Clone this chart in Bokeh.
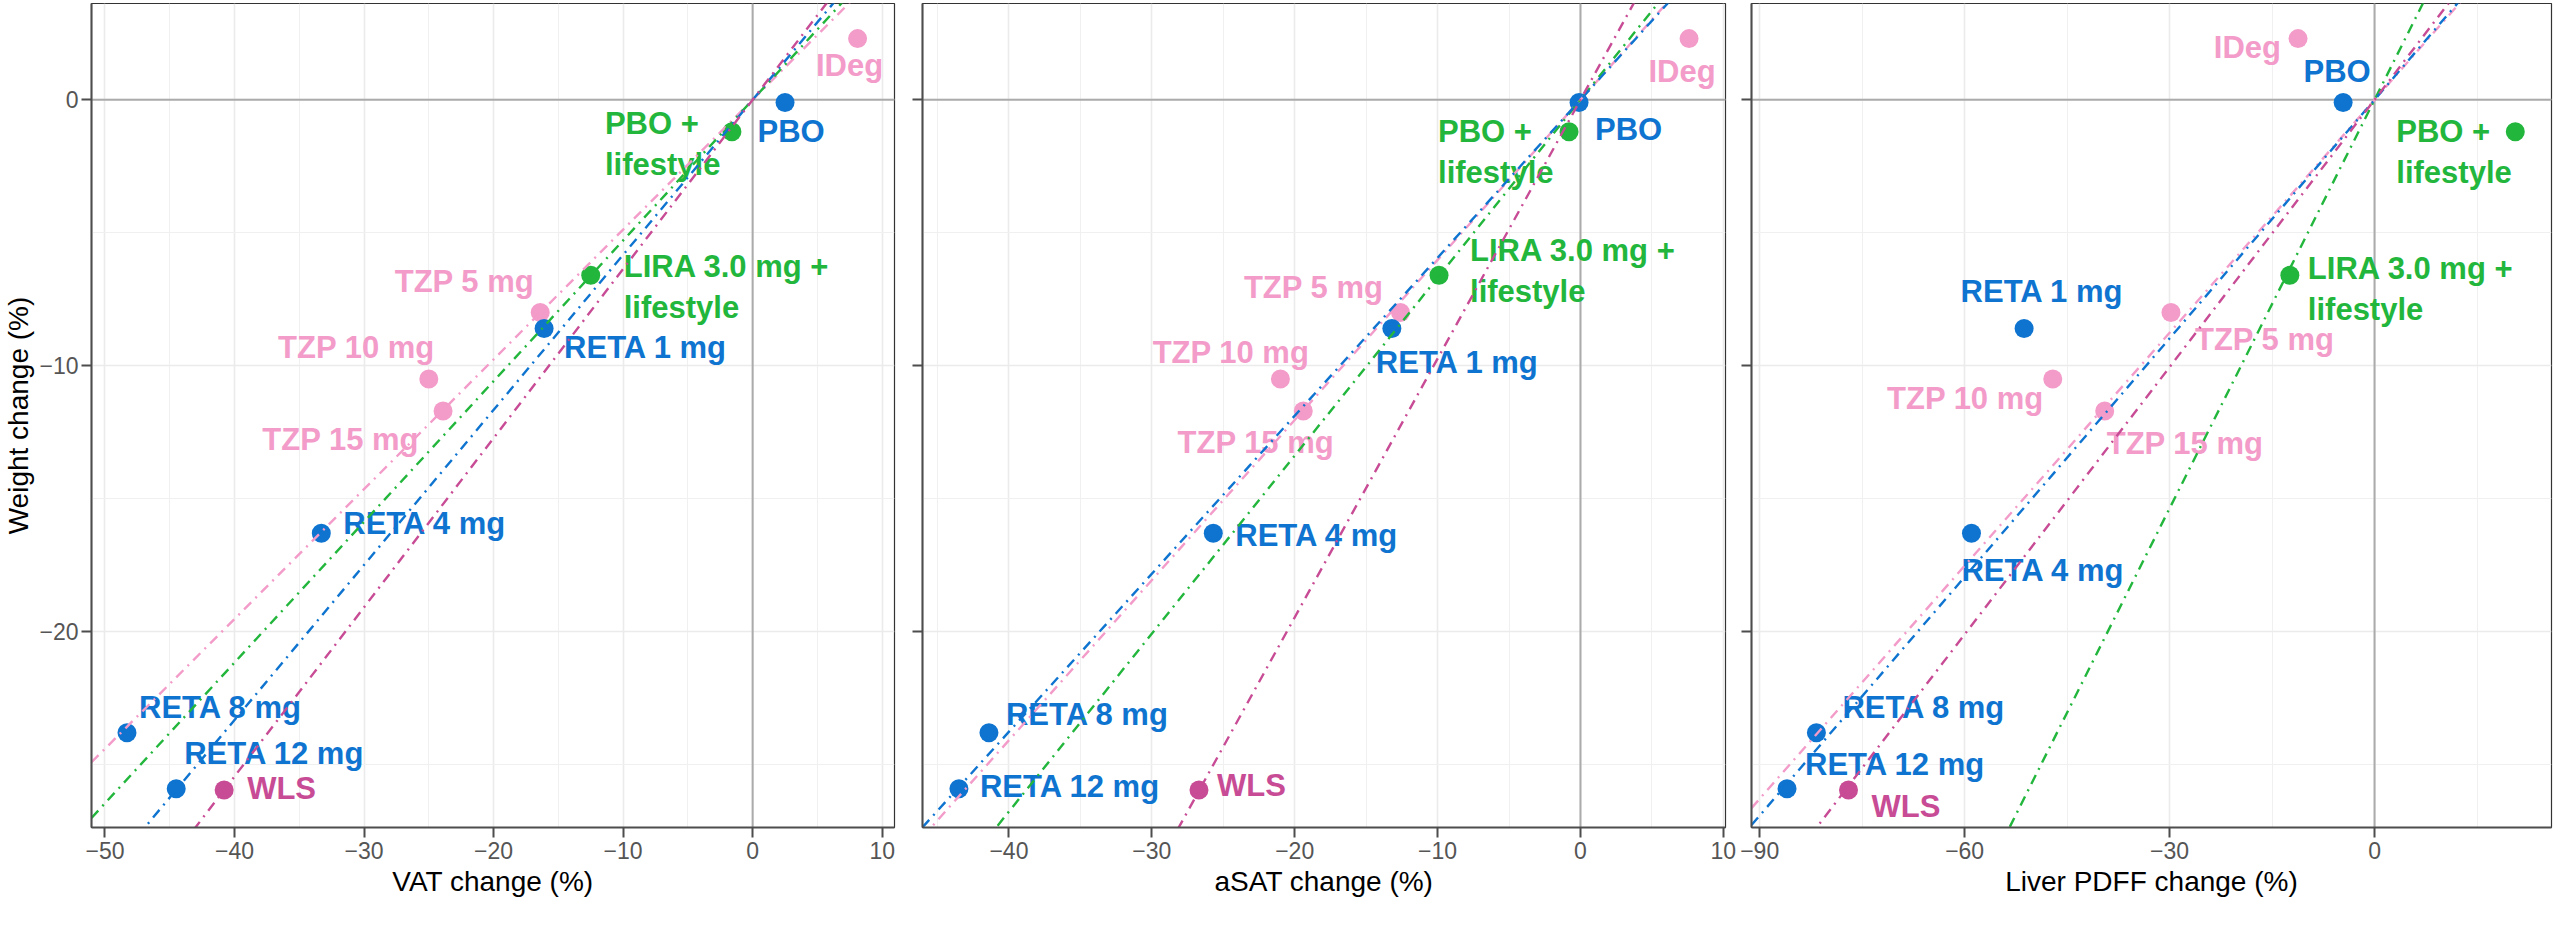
import numpy as np
from bokeh.plotting import figure
from bokeh.models import ColumnDataSource, FixedTicker, Span
from bokeh.layouts import row
from bokeh.embed import file_html
from bokeh.resources import INLINE
from bokeh.core.properties import value

# ---------------- data ----------------
treatments = ["IDeg", "PBO", "PBO +\nlifestyle", "LIRA 3.0 mg +\nlifestyle", "TZP 5 mg",
              "RETA 1 mg", "TZP 10 mg", "TZP 15 mg", "RETA 4 mg", "RETA 8 mg",
              "RETA 12 mg", "WLS"]
groups = ["TZP", "RETA", "Lifestyle", "Lifestyle", "TZP", "RETA", "TZP", "TZP",
          "RETA", "RETA", "RETA", "WLS"]
weight_change = [2.3, -0.1, -1.2, -6.6, -8.0, -8.6, -10.5, -11.7, -16.3, -23.8, -25.9, -25.95]
vat_change = [8.1, 2.5, -1.6, -12.5, -16.4, -16.1, -25.0, -23.9, -33.3, -48.3, -44.5, -40.8]
asat_change = [7.6, -0.1, -0.8, -9.9, -12.6, -13.2, -21.0, -19.4, -25.7, -41.4, -43.5, -26.7]
pdff_change = [-11.2, -4.6, 20.6, -12.4, -29.8, -51.3, -47.1, -39.5, -59.0, -81.7, -86.0, -77.0]

line_groups = ["TZP", "Lifestyle", "RETA", "WLS"]
vat_slopes = [0.488, 0.529, 0.583, 0.636]
asat_slopes = [0.602, 0.669, 0.594, 0.973]
pdff_slopes = [0.292, 0.512, 0.299, 0.335]

vat_ticks = [-50, -40, -30, -20, -10, 0, 10]
asat_ticks = [-40, -30, -20, -10, 0, 10]
pdff_ticks = [-90, -60, -30, 0]
weight_ticks = [-20, -10, 0]

# ---------------- style / layout ----------------
COLORS = {"TZP": "#F39BC9", "Lifestyle": "#22B63C", "RETA": "#0E74D0", "WLS": "#C84B95"}
FONT = "Liberation Sans"

# label placement (align, dx px, dy px) per treatment, per panel
LAB_VAT = [("center", -8, 27), ("center", 6, 29), ("left", -127, 12), ("left", 33, 12),
           ("right", -6, -31), ("left", 20, 19), ("right", 6, -32), ("right", -24, 29),
           ("left", 22, -10), ("left", 12, -25), ("left", 8, -35), ("left", 23, -1)]
LAB_ASAT = [("center", -7, 33), ("left", 16, 27), ("left", -131, 20), ("left", 31, -4),
            ("right", -17, -25), ("left", -16, 34), ("right", 29, -27), ("right", 31, 32),
            ("left", 22, 2), ("left", 17, -18), ("left", 21, -2), ("left", 18, -4)]
LAB_PDFF = [("right", -17, 9), ("center", -6, -31), ("left", -119, 20), ("left", 18, 14),
            ("left", 24, 27), ("center", 18, -37), ("right", -9, 19), ("left", 2, 33),
            ("left", -10, 37), ("left", 26, -25), ("left", 18, -24), ("left", 23, 17)]

Y_RANGE = (-27.36, 3.62)


def minus(t):
    return str(t).replace("-", "\u2212")


def make_panel(xvals, slopes, xr, xticks, xminor, xtitle, labels, first,
               fw, mbl, mbr):
    p = figure(frame_width=fw, frame_height=824, x_range=xr, y_range=Y_RANGE,
               output_backend="svg", toolbar_location=None,
               min_border_left=mbl, min_border_right=mbr, min_border_top=3,
               min_border_bottom=0, background_fill_color="white",
               border_fill_color="white")
    p.outline_line_color = "#333333"
    p.outline_line_width = 1.2

    xt = FixedTicker(ticks=xticks, minor_ticks=xminor)
    yt = FixedTicker(ticks=weight_ticks, minor_ticks=[-25, -15, -5])
    p.xaxis.ticker = xt
    p.yaxis.ticker = yt
    p.xgrid.ticker = xt
    p.ygrid.ticker = yt
    for g in (p.xgrid, p.ygrid):
        g.grid_line_color = "#EBEBEB"
        g.grid_line_width = 1.6
        g.minor_grid_line_color = "#F0F0F0"
        g.minor_grid_line_width = 1.0

    for ax in (p.xaxis, p.yaxis):
        ax.axis_line_color = "#4D4D4D"
        ax.axis_line_width = 2
        ax.major_tick_line_color = "#4D4D4D"
        ax.major_tick_line_width = 2
        ax.major_tick_out = 10
        ax.major_tick_in = 0
        ax.minor_tick_line_color = None
        ax.major_label_text_font = FONT
        ax.major_label_text_font_size = "23px"
        ax.major_label_text_color = "#555555"
        ax.axis_label_text_font = FONT
        ax.axis_label_text_font_size = "28px"
        ax.axis_label_text_font_style = "normal"
        ax.axis_label_text_color = "black"

    p.xaxis.major_label_overrides = {t: minus(t) for t in xticks}
    p.xaxis.axis_label = xtitle
    p.xaxis.major_label_standoff = 4
    p.xaxis.axis_label_standoff = 4
    if first:
        p.yaxis.major_label_overrides = {t: minus(t) for t in weight_ticks}
        p.yaxis.axis_label = "Weight change (%)"
        p.yaxis.major_label_standoff = 3
        p.yaxis.axis_label_standoff = 2
    else:
        p.yaxis.major_label_overrides = {t: "" for t in weight_ticks}
        p.yaxis.major_label_standoff = 0

    p.add_layout(Span(location=0, dimension="width", line_color="#ABABAB",
                      line_width=2, level="underlay"))
    p.add_layout(Span(location=0, dimension="height", line_color="#ABABAB",
                      line_width=2, level="underlay"))

    # points
    src = ColumnDataSource(dict(x=xvals, y=weight_change,
                                color=[COLORS[g] for g in groups]))
    p.scatter("x", "y", source=src, size=19, color="color", line_color=None)

    # labels
    for align in ("left", "right", "center"):
        idx = [i for i, l in enumerate(labels) if l[0] == align]
        if not idx:
            continue
        s = ColumnDataSource(dict(
            x=[xvals[i] for i in idx], y=[weight_change[i] for i in idx],
            text=[treatments[i] for i in idx],
            color=[COLORS[groups[i]] for i in idx],
            dx=[labels[i][1] for i in idx], dy=[labels[i][2] for i in idx]))
        p.text("x", "y", text="text", source=s, text_color="color",
               text_align=align, text_baseline="middle", x_offset="dx",
               y_offset="dy", text_font=value(FONT), text_font_style="bold",
               text_font_size="31px", text_line_height=1.18)

    # fitted lines through the origin
    xs = np.array([xr[0], xr[1]])
    for g, s in zip(line_groups, slopes):
        p.line(xs, s * xs, line_color=COLORS[g], line_width=2.4,
               line_dash="10 6 2 6")
    return p


p1 = make_panel(vat_change, vat_slopes, (-51.04, 10.95), vat_ticks,
                [-45, -35, -25, -15, -5, 5], "VAT change (%)", LAB_VAT, True,
                803, 79, 8)
p2 = make_panel(asat_change, asat_slopes, (-46.05, 10.15), asat_ticks,
                [-45, -35, -25, -15, -5, 5], "aSAT change (%)", LAB_ASAT, False,
                803, 20, 12)
p3 = make_panel(pdff_change, pdff_slopes, (-91.2, 25.9), pdff_ticks,
                [-75, -45, -15, 15], "Liver PDFF change (%)", LAB_PDFF, False,
                800, 14, 4)

layout = row(p1, p2, p3)
open("out.html", "w").write(file_html(layout, INLINE))
